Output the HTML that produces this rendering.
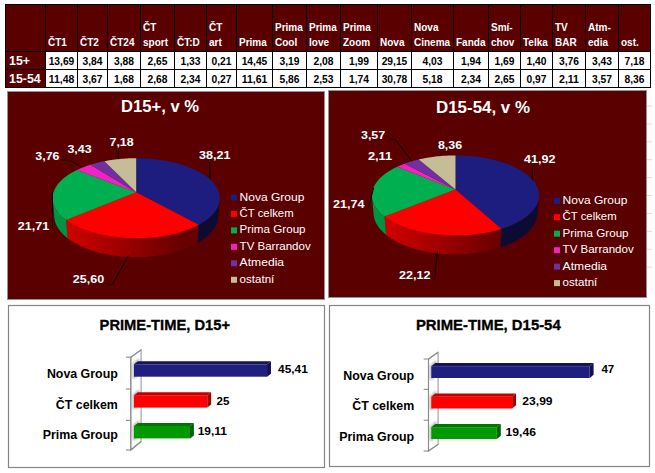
<!DOCTYPE html>
<html><head><meta charset="utf-8"><title>TV share</title>
<style>html,body{margin:0;padding:0;background:#fff;} svg{display:block;}</style></head>
<body><svg width="655" height="473" viewBox="0 0 655 473">
<rect x="5" y="4" width="646" height="84" fill="#5a0000"/>
<rect x="45" y="51" width="606" height="37" fill="#fff"/>
<rect x="5" y="4" width="1" height="84" fill="#000"/>
<rect x="45" y="4" width="1" height="84" fill="#000"/>
<rect x="77" y="4" width="1" height="84" fill="#000"/>
<rect x="107" y="4" width="1" height="84" fill="#000"/>
<rect x="140" y="4" width="1" height="84" fill="#000"/>
<rect x="174" y="4" width="1" height="84" fill="#000"/>
<rect x="206" y="4" width="1" height="84" fill="#000"/>
<rect x="236" y="4" width="1" height="84" fill="#000"/>
<rect x="272" y="4" width="1" height="84" fill="#000"/>
<rect x="306" y="4" width="1" height="84" fill="#000"/>
<rect x="340" y="4" width="1" height="84" fill="#000"/>
<rect x="377" y="4" width="1" height="84" fill="#000"/>
<rect x="411" y="4" width="1" height="84" fill="#000"/>
<rect x="453" y="4" width="1" height="84" fill="#000"/>
<rect x="488" y="4" width="1" height="84" fill="#000"/>
<rect x="520" y="4" width="1" height="84" fill="#000"/>
<rect x="552" y="4" width="1" height="84" fill="#000"/>
<rect x="585" y="4" width="1" height="84" fill="#000"/>
<rect x="618" y="4" width="1" height="84" fill="#000"/>
<rect x="650" y="4" width="1" height="84" fill="#000"/>
<rect x="5" y="4" width="646" height="1" fill="#000"/>
<rect x="5" y="51" width="646" height="1" fill="#000"/>
<rect x="5" y="69" width="646" height="1" fill="#000"/>
<rect x="5" y="87" width="646" height="1" fill="#000"/>
<g font-family="Liberation Sans, sans-serif" font-weight="bold" font-size="10" fill="#fff">
<text x="48" y="46">ČT1</text>
<text x="80" y="46">ČT2</text>
<text x="110" y="46">ČT24</text>
<text x="143" y="31">ČT</text>
<text x="143" y="46">sport</text>
<text x="177" y="46">ČT:D</text>
<text x="209" y="31">ČT</text>
<text x="209" y="46">art</text>
<text x="239" y="46">Prima</text>
<text x="275" y="31">Prima</text>
<text x="275" y="46">Cool</text>
<text x="309" y="31">Prima</text>
<text x="309" y="46">love</text>
<text x="343" y="31">Prima</text>
<text x="343" y="46">Zoom</text>
<text x="380" y="46">Nova</text>
<text x="414" y="31">Nova</text>
<text x="414" y="46">Cinema</text>
<text x="456" y="46">Fanda</text>
<text x="491" y="31">Smí-</text>
<text x="491" y="46">chov</text>
<text x="523" y="46">Telka</text>
<text x="555" y="31">TV</text>
<text x="555" y="46">BAR</text>
<text x="588" y="31">Atm-</text>
<text x="588" y="46">edia</text>
<text x="621" y="46">ost.</text>
</g>
<g font-family="Liberation Sans, sans-serif" font-weight="bold" font-size="12.4" fill="#fff">
<text x="9" y="65">15+</text>
<text x="9" y="83">15-54</text>
</g>
<g font-family="Liberation Sans, sans-serif" font-weight="bold" font-size="10.4" fill="#000" text-anchor="middle">
<text x="61.5" y="65.2" textLength="25.6" lengthAdjust="spacingAndGlyphs">13,69</text>
<text x="61.5" y="83" textLength="25.6" lengthAdjust="spacingAndGlyphs">11,48</text>
<text x="92.5" y="65.2" textLength="20.0" lengthAdjust="spacingAndGlyphs">3,84</text>
<text x="92.5" y="83" textLength="20.0" lengthAdjust="spacingAndGlyphs">3,67</text>
<text x="124.0" y="65.2" textLength="20.0" lengthAdjust="spacingAndGlyphs">3,88</text>
<text x="124.0" y="83" textLength="20.0" lengthAdjust="spacingAndGlyphs">1,68</text>
<text x="157.5" y="65.2" textLength="20.0" lengthAdjust="spacingAndGlyphs">2,65</text>
<text x="157.5" y="83" textLength="20.0" lengthAdjust="spacingAndGlyphs">2,68</text>
<text x="190.5" y="65.2" textLength="20.0" lengthAdjust="spacingAndGlyphs">1,33</text>
<text x="190.5" y="83" textLength="20.0" lengthAdjust="spacingAndGlyphs">2,34</text>
<text x="221.5" y="65.2" textLength="20.0" lengthAdjust="spacingAndGlyphs">0,21</text>
<text x="221.5" y="83" textLength="20.0" lengthAdjust="spacingAndGlyphs">0,27</text>
<text x="254.5" y="65.2" textLength="25.6" lengthAdjust="spacingAndGlyphs">14,45</text>
<text x="254.5" y="83" textLength="25.6" lengthAdjust="spacingAndGlyphs">11,61</text>
<text x="289.5" y="65.2" textLength="20.0" lengthAdjust="spacingAndGlyphs">3,19</text>
<text x="289.5" y="83" textLength="20.0" lengthAdjust="spacingAndGlyphs">5,86</text>
<text x="323.5" y="65.2" textLength="20.0" lengthAdjust="spacingAndGlyphs">2,08</text>
<text x="323.5" y="83" textLength="20.0" lengthAdjust="spacingAndGlyphs">2,53</text>
<text x="359.0" y="65.2" textLength="20.0" lengthAdjust="spacingAndGlyphs">1,99</text>
<text x="359.0" y="83" textLength="20.0" lengthAdjust="spacingAndGlyphs">1,74</text>
<text x="394.5" y="65.2" textLength="25.6" lengthAdjust="spacingAndGlyphs">29,15</text>
<text x="394.5" y="83" textLength="25.6" lengthAdjust="spacingAndGlyphs">30,78</text>
<text x="432.5" y="65.2" textLength="20.0" lengthAdjust="spacingAndGlyphs">4,03</text>
<text x="432.5" y="83" textLength="20.0" lengthAdjust="spacingAndGlyphs">5,18</text>
<text x="471.0" y="65.2" textLength="20.0" lengthAdjust="spacingAndGlyphs">1,94</text>
<text x="471.0" y="83" textLength="20.0" lengthAdjust="spacingAndGlyphs">2,34</text>
<text x="504.5" y="65.2" textLength="20.0" lengthAdjust="spacingAndGlyphs">1,69</text>
<text x="504.5" y="83" textLength="20.0" lengthAdjust="spacingAndGlyphs">2,65</text>
<text x="536.5" y="65.2" textLength="20.0" lengthAdjust="spacingAndGlyphs">1,40</text>
<text x="536.5" y="83" textLength="20.0" lengthAdjust="spacingAndGlyphs">0,97</text>
<text x="569.0" y="65.2" textLength="20.0" lengthAdjust="spacingAndGlyphs">3,76</text>
<text x="569.0" y="83" textLength="20.0" lengthAdjust="spacingAndGlyphs">2,11</text>
<text x="602.0" y="65.2" textLength="20.0" lengthAdjust="spacingAndGlyphs">3,43</text>
<text x="602.0" y="83" textLength="20.0" lengthAdjust="spacingAndGlyphs">3,57</text>
<text x="634.5" y="65.2" textLength="20.0" lengthAdjust="spacingAndGlyphs">7,18</text>
<text x="634.5" y="83" textLength="20.0" lengthAdjust="spacingAndGlyphs">8,36</text>
</g>
<rect x="7.5" y="91.5" width="317" height="208" fill="#5a0000" stroke="#8c9696" stroke-width="1"/>
<rect x="328.5" y="90.5" width="318" height="207" fill="#5a0000" stroke="#8c9696" stroke-width="1"/>
<defs><filter id="blr" x="-50%" y="-50%" width="200%" height="200%"><feGaussianBlur stdDeviation="1.1"/></filter></defs>
<linearGradient id="Lpur" gradientUnits="userSpaceOnUse" x1="52.6" y1="0" x2="219.8" y2="0"><stop offset="0" stop-color="#61298b"/><stop offset="0.77" stop-color="#2d1341"/><stop offset="1" stop-color="#2c1340"/></linearGradient>
<linearGradient id="Lgreen" gradientUnits="userSpaceOnUse" x1="52.6" y1="0" x2="219.8" y2="0"><stop offset="0" stop-color="#009945"/><stop offset="0.77" stop-color="#004820"/><stop offset="1" stop-color="#004620"/></linearGradient>
<linearGradient id="Lmag" gradientUnits="userSpaceOnUse" x1="52.6" y1="0" x2="219.8" y2="0"><stop offset="0" stop-color="#d21da8"/><stop offset="0.77" stop-color="#630d4f"/><stop offset="1" stop-color="#600d4d"/></linearGradient>
<linearGradient id="Lred" gradientUnits="userSpaceOnUse" x1="52.6" y1="0" x2="219.8" y2="0"><stop offset="0" stop-color="#dd0000"/><stop offset="0.77" stop-color="#680000"/><stop offset="1" stop-color="#660000"/></linearGradient>
<linearGradient id="Lbeige" gradientUnits="userSpaceOnUse" x1="52.6" y1="0" x2="219.8" y2="0"><stop offset="0" stop-color="#aaa483"/><stop offset="0.77" stop-color="#504d3d"/><stop offset="1" stop-color="#4e4b3c"/></linearGradient>
<linearGradient id="Lblue" gradientUnits="userSpaceOnUse" x1="52.6" y1="0" x2="219.8" y2="0"><stop offset="0" stop-color="#19196f"/><stop offset="0.77" stop-color="#0b0b34"/><stop offset="1" stop-color="#0b0b33"/></linearGradient>
<path d="M219.80,198.20 L219.77,199.22 L219.69,200.25 L219.55,201.28 L219.35,202.31 L219.10,203.35 L218.79,204.38 L218.43,205.41 L218.00,206.44 L217.52,207.47 L216.98,208.50 L216.38,209.52 L215.72,210.54 L215.00,211.56 L214.22,212.57 L213.38,213.57 L212.48,214.56 L211.52,215.55 L210.51,216.52 L209.43,217.49 L208.30,218.44 L207.11,219.39 L205.86,220.32 L204.55,221.23 L203.19,222.13 L201.76,223.02 L200.29,223.88 L198.76,224.73 L197.44,243.12 L198.94,242.23 L200.39,241.33 L201.78,240.41 L203.12,239.47 L204.41,238.52 L205.64,237.55 L206.81,236.57 L207.93,235.58 L208.98,234.57 L209.98,233.56 L210.93,232.53 L211.81,231.50 L212.64,230.45 L213.41,229.40 L214.12,228.34 L214.77,227.28 L215.36,226.21 L215.90,225.14 L216.38,224.07 L216.80,222.99 L217.17,221.91 L217.48,220.83 L217.73,219.76 L217.93,218.68 L218.07,217.61 L218.16,216.53 L218.19,215.46Z" fill="url(#Lblue)"/>
<path d="M198.76,224.73 L197.13,225.59 L195.44,226.42 L193.70,227.23 L191.91,228.02 L190.06,228.79 L188.16,229.53 L186.22,230.25 L184.22,230.94 L182.18,231.61 L180.10,232.24 L177.97,232.85 L175.80,233.43 L173.59,233.98 L171.34,234.49 L169.06,234.98 L166.75,235.43 L164.40,235.85 L162.03,236.24 L159.63,236.60 L157.21,236.92 L154.76,237.20 L152.30,237.45 L149.82,237.67 L147.33,237.84 L144.82,237.99 L142.31,238.09 L139.79,238.16 L137.26,238.20 L134.74,238.19 L132.21,238.15 L129.69,238.08 L127.18,237.97 L124.68,237.82 L122.19,237.63 L119.71,237.41 L117.25,237.16 L114.81,236.87 L112.39,236.54 L109.99,236.18 L107.62,235.79 L105.28,235.36 L102.97,234.90 L100.70,234.41 L98.46,233.89 L96.26,233.34 L94.09,232.76 L91.97,232.14 L89.89,231.50 L87.86,230.83 L85.87,230.14 L83.93,229.42 L82.04,228.67 L80.20,227.90 L78.42,227.11 L76.69,226.29 L75.01,225.45 L73.39,224.60 L71.83,223.72 L70.32,222.82 L68.87,221.91 L67.48,220.98 L66.16,220.03 L67.61,238.23 L68.92,239.21 L70.28,240.18 L71.70,241.13 L73.18,242.06 L74.71,242.98 L76.30,243.87 L77.95,244.74 L79.65,245.59 L81.40,246.41 L83.20,247.21 L85.05,247.99 L86.95,248.74 L88.90,249.46 L90.89,250.16 L92.93,250.82 L95.00,251.46 L97.12,252.07 L99.28,252.64 L101.47,253.18 L103.70,253.69 L105.96,254.17 L108.25,254.61 L110.57,255.02 L112.91,255.39 L115.28,255.73 L117.66,256.03 L120.07,256.30 L122.49,256.53 L124.93,256.72 L127.38,256.87 L129.84,256.99 L132.30,257.07 L134.77,257.11 L137.24,257.11 L139.71,257.08 L142.17,257.00 L144.63,256.89 L147.08,256.75 L149.52,256.56 L151.95,256.34 L154.36,256.08 L156.75,255.78 L159.12,255.45 L161.46,255.08 L163.79,254.68 L166.08,254.24 L168.34,253.77 L170.58,253.27 L172.78,252.73 L174.94,252.16 L177.06,251.56 L179.15,250.93 L181.19,250.26 L183.19,249.57 L185.14,248.86 L187.05,248.11 L188.91,247.34 L190.72,246.54 L192.48,245.72 L194.19,244.87 L195.84,244.01 L197.44,243.12Z" fill="url(#Lred)"/>
<path d="M66.16,220.03 L64.89,219.07 L63.67,218.09 L62.53,217.10 L61.44,216.10 L60.42,215.09 L59.46,214.06 L58.56,213.03 L57.73,211.99 L56.96,210.95 L56.26,209.90 L55.62,208.84 L55.04,207.78 L54.52,206.72 L54.07,205.65 L53.68,204.58 L53.35,203.52 L53.08,202.45 L52.87,201.38 L52.72,200.32 L52.63,199.26 L52.60,198.20 L54.21,215.46 L54.25,216.57 L54.34,217.68 L54.49,218.79 L54.70,219.90 L54.97,221.01 L55.30,222.13 L55.69,223.24 L56.14,224.35 L56.65,225.46 L57.23,226.57 L57.86,227.67 L58.56,228.76 L59.32,229.85 L60.14,230.94 L61.02,232.01 L61.97,233.08 L62.97,234.13 L64.04,235.18 L65.17,236.21 L66.36,237.23 L67.61,238.23Z" fill="url(#Lgreen)"/>
<path d="M136.20,192.20 L136.20,158.20 L138.08,158.21 L139.95,158.24 L141.83,158.29 L143.70,158.36 L145.57,158.45 L147.44,158.56 L149.30,158.69 L151.15,158.85 L153.00,159.02 L154.85,159.21 L156.68,159.42 L158.51,159.65 L160.32,159.90 L162.13,160.17 L163.92,160.46 L165.71,160.77 L167.48,161.10 L169.23,161.46 L170.97,161.82 L172.70,162.21 L174.41,162.62 L176.11,163.05 L177.78,163.50 L179.44,163.97 L181.08,164.45 L182.69,164.96 L184.29,165.48 L185.86,166.02 L187.41,166.59 L188.94,167.17 L190.44,167.76 L191.92,168.38 L193.37,169.02 L194.79,169.67 L196.18,170.34 L197.54,171.03 L198.88,171.73 L200.18,172.45 L201.45,173.19 L202.68,173.95 L203.88,174.72 L205.04,175.51 L206.17,176.31 L207.26,177.13 L208.31,177.97 L209.33,178.82 L210.30,179.68 L211.23,180.56 L212.12,181.46 L212.96,182.36 L213.76,183.28 L214.52,184.21 L215.23,185.16 L215.89,186.11 L216.50,187.08 L217.06,188.06 L217.58,189.05 L218.04,190.05 L218.45,191.05 L218.81,192.07 L219.11,193.09 L219.36,194.13 L219.55,195.16 L219.69,196.21 L219.77,197.26 L219.80,198.32 L219.76,199.37 L219.66,200.44 L219.51,201.50 L219.30,202.57 L219.02,203.64 L218.68,204.71 L218.28,205.77 L217.82,206.84 L217.30,207.90 L216.71,208.97 L216.06,210.02 L215.35,211.07 L214.57,212.12 L213.73,213.16 L212.83,214.19 L211.86,215.21 L210.83,216.23 L209.73,217.23 L208.58,218.22 L207.36,219.19 L206.07,220.16 L204.73,221.11 L203.33,222.04 L201.86,222.96 L200.34,223.85 L198.76,224.73Z" fill="#1d1d80"/>
<path d="M136.20,192.20 L198.76,224.73 L197.13,225.59 L195.44,226.42 L193.70,227.23 L191.91,228.02 L190.06,228.79 L188.16,229.53 L186.22,230.25 L184.22,230.94 L182.18,231.61 L180.10,232.24 L177.97,232.85 L175.80,233.43 L173.59,233.98 L171.34,234.49 L169.06,234.98 L166.75,235.43 L164.40,235.85 L162.03,236.24 L159.63,236.60 L157.21,236.92 L154.76,237.20 L152.30,237.45 L149.82,237.67 L147.33,237.84 L144.82,237.99 L142.31,238.09 L139.79,238.16 L137.26,238.20 L134.74,238.19 L132.21,238.15 L129.69,238.08 L127.18,237.97 L124.68,237.82 L122.19,237.63 L119.71,237.41 L117.25,237.16 L114.81,236.87 L112.39,236.54 L109.99,236.18 L107.62,235.79 L105.28,235.36 L102.97,234.90 L100.70,234.41 L98.46,233.89 L96.26,233.34 L94.09,232.76 L91.97,232.14 L89.89,231.50 L87.86,230.83 L85.87,230.14 L83.93,229.42 L82.04,228.67 L80.20,227.90 L78.42,227.11 L76.69,226.29 L75.01,225.45 L73.39,224.60 L71.83,223.72 L70.32,222.82 L68.87,221.91 L67.48,220.98 L66.16,220.03Z" fill="#ff0000"/>
<path d="M136.20,192.20 L66.16,220.03 L64.90,219.08 L63.70,218.12 L62.57,217.14 L61.50,216.15 L60.48,215.15 L59.53,214.14 L58.64,213.13 L57.81,212.10 L57.05,211.07 L56.35,210.03 L55.70,208.99 L55.12,207.94 L54.60,206.89 L54.14,205.84 L53.75,204.79 L53.41,203.74 L53.13,202.68 L52.91,201.63 L52.75,200.58 L52.65,199.53 L52.61,198.48 L52.62,197.44 L52.69,196.41 L52.81,195.37 L52.99,194.35 L53.23,193.33 L53.51,192.32 L53.85,191.31 L54.24,190.32 L54.69,189.33 L55.18,188.35 L55.72,187.38 L56.31,186.43 L56.94,185.48 L57.63,184.54 L58.36,183.62 L59.13,182.71 L59.94,181.81 L60.80,180.92 L61.70,180.05 L62.65,179.19 L63.63,178.35 L64.65,177.52 L65.70,176.70 L66.80,175.90 L67.93,175.12 L69.10,174.35 L70.30,173.59 L71.53,172.85 L72.79,172.13 L74.09,171.43 L75.42,170.74 L76.77,170.07Z" fill="#00b050"/>
<path d="M136.20,192.20 L76.77,170.07 L78.04,169.47 L79.34,168.88 L80.65,168.31 L81.99,167.75 L83.35,167.21 L84.73,166.68 L86.13,166.17 L87.55,165.67 L88.98,165.19 L90.44,164.73Z" fill="#f222c2"/>
<path d="M136.20,192.20 L90.44,164.73 L91.93,164.27 L93.44,163.83 L94.96,163.41 L96.50,163.00 L98.06,162.61 L99.63,162.23 L101.21,161.87 L102.81,161.53 L104.42,161.20Z" fill="#7030a0"/>
<path d="M136.20,192.20 L104.42,161.20 L106.11,160.88 L107.82,160.58 L109.54,160.29 L111.27,160.02 L113.01,159.77 L114.76,159.54 L116.52,159.32 L118.28,159.13 L120.05,158.95 L121.83,158.80 L123.62,158.66 L125.41,158.53 L127.20,158.43 L128.99,158.35 L130.79,158.28 L132.59,158.24 L134.40,158.21 L136.20,158.20Z" fill="#c4bd97"/>
<linearGradient id="Rpur" gradientUnits="userSpaceOnUse" x1="371.9" y1="0" x2="539.1" y2="0"><stop offset="0" stop-color="#61298b"/><stop offset="0.77" stop-color="#2d1341"/><stop offset="1" stop-color="#2c1340"/></linearGradient>
<linearGradient id="Rgreen" gradientUnits="userSpaceOnUse" x1="371.9" y1="0" x2="539.1" y2="0"><stop offset="0" stop-color="#009945"/><stop offset="0.77" stop-color="#004820"/><stop offset="1" stop-color="#004620"/></linearGradient>
<linearGradient id="Rmag" gradientUnits="userSpaceOnUse" x1="371.9" y1="0" x2="539.1" y2="0"><stop offset="0" stop-color="#d21da8"/><stop offset="0.77" stop-color="#630d4f"/><stop offset="1" stop-color="#600d4d"/></linearGradient>
<linearGradient id="Rred" gradientUnits="userSpaceOnUse" x1="371.9" y1="0" x2="539.1" y2="0"><stop offset="0" stop-color="#dd0000"/><stop offset="0.77" stop-color="#680000"/><stop offset="1" stop-color="#660000"/></linearGradient>
<linearGradient id="Rbeige" gradientUnits="userSpaceOnUse" x1="371.9" y1="0" x2="539.1" y2="0"><stop offset="0" stop-color="#aaa483"/><stop offset="0.77" stop-color="#504d3d"/><stop offset="1" stop-color="#4e4b3c"/></linearGradient>
<linearGradient id="Rblue" gradientUnits="userSpaceOnUse" x1="371.9" y1="0" x2="539.1" y2="0"><stop offset="0" stop-color="#19196f"/><stop offset="0.77" stop-color="#0b0b34"/><stop offset="1" stop-color="#0b0b33"/></linearGradient>
<path d="M539.10,195.40 L539.07,196.43 L538.98,197.47 L538.84,198.51 L538.65,199.55 L538.39,200.59 L538.08,201.63 L537.70,202.67 L537.27,203.71 L536.78,204.75 L536.23,205.79 L535.62,206.82 L534.94,207.85 L534.21,208.87 L533.42,209.89 L532.57,210.90 L531.65,211.90 L530.68,212.89 L529.65,213.87 L528.55,214.85 L527.40,215.81 L526.18,216.76 L524.91,217.69 L523.58,218.61 L522.20,219.52 L520.75,220.40 L519.25,221.28 L517.69,222.13 L516.08,222.96 L514.42,223.78 L512.70,224.57 L510.93,225.34 L509.11,226.09 L507.25,226.82 L505.33,227.52 L503.37,228.19 L501.36,228.84 L500.37,247.50 L502.34,246.83 L504.26,246.12 L506.14,245.40 L507.97,244.64 L509.75,243.86 L511.48,243.06 L513.17,242.24 L514.80,241.39 L516.38,240.52 L517.91,239.63 L519.38,238.73 L520.80,237.80 L522.16,236.86 L523.47,235.90 L524.72,234.93 L525.91,233.94 L527.05,232.94 L528.12,231.93 L529.14,230.91 L530.10,229.87 L531.00,228.83 L531.84,227.78 L532.62,226.72 L533.35,225.65 L534.01,224.58 L534.62,223.50 L535.16,222.42 L535.65,221.34 L536.08,220.26 L536.45,219.17 L536.77,218.08 L537.02,216.99 L537.22,215.91 L537.37,214.82 L537.46,213.74 L537.49,212.66Z" fill="url(#Rblue)"/>
<path d="M501.36,228.84 L499.29,229.47 L497.18,230.07 L495.02,230.65 L492.83,231.19 L490.60,231.70 L488.33,232.19 L486.03,232.64 L483.71,233.05 L481.35,233.44 L478.97,233.79 L476.56,234.11 L474.14,234.39 L471.69,234.64 L469.23,234.86 L466.76,235.04 L464.27,235.18 L461.77,235.29 L459.27,235.36 L456.77,235.40 L454.26,235.40 L451.75,235.36 L449.25,235.29 L446.76,235.18 L444.27,235.04 L441.79,234.86 L439.33,234.64 L436.89,234.40 L434.46,234.11 L432.06,233.79 L429.67,233.44 L427.32,233.06 L424.99,232.64 L422.69,232.19 L420.43,231.71 L418.20,231.20 L416.00,230.65 L413.85,230.08 L411.73,229.48 L409.66,228.85 L407.63,228.19 L405.64,227.51 L403.71,226.80 L401.82,226.06 L399.98,225.30 L398.19,224.52 L396.46,223.72 L394.78,222.89 L393.15,222.05 L391.59,221.18 L390.07,220.30 L388.62,219.40 L387.22,218.48 L385.88,217.55 L384.61,216.60 L386.08,234.77 L387.33,235.75 L388.65,236.72 L390.02,237.68 L391.45,238.62 L392.93,239.54 L394.47,240.44 L396.06,241.32 L397.71,242.18 L399.41,243.01 L401.17,243.82 L402.97,244.61 L404.82,245.38 L406.72,246.12 L408.66,246.83 L410.65,247.51 L412.68,248.16 L414.75,248.79 L416.86,249.38 L419.01,249.95 L421.19,250.48 L423.41,250.98 L425.66,251.45 L427.94,251.88 L430.24,252.28 L432.57,252.65 L434.92,252.98 L437.30,253.27 L439.69,253.53 L442.10,253.75 L444.52,253.94 L446.95,254.09 L449.39,254.20 L451.84,254.27 L454.29,254.31 L456.74,254.31 L459.19,254.27 L461.64,254.20 L464.08,254.09 L466.51,253.94 L468.93,253.75 L471.34,253.53 L473.73,253.27 L476.10,252.97 L478.46,252.64 L480.78,252.28 L483.09,251.88 L485.37,251.44 L487.62,250.98 L489.83,250.48 L492.02,249.94 L494.16,249.38 L496.27,248.78 L498.34,248.16 L500.37,247.50Z" fill="url(#Rred)"/>
<path d="M384.61,216.60 L383.41,215.65 L382.28,214.70 L381.20,213.73 L380.19,212.76 L379.23,211.77 L378.33,210.78 L377.49,209.77 L376.71,208.77 L375.99,207.75 L375.33,206.73 L374.73,205.71 L374.18,204.68 L373.70,203.65 L373.28,202.62 L372.91,201.58 L372.60,200.55 L372.35,199.51 L372.15,198.48 L372.01,197.45 L371.93,196.42 L371.90,195.40 L373.51,212.66 L373.54,213.73 L373.63,214.81 L373.77,215.88 L373.97,216.96 L374.22,218.04 L374.53,219.12 L374.90,220.19 L375.32,221.27 L375.80,222.35 L376.34,223.42 L376.93,224.49 L377.59,225.55 L378.30,226.61 L379.07,227.66 L379.90,228.70 L380.78,229.74 L381.73,230.77 L382.73,231.78 L383.79,232.79 L384.90,233.78 L386.08,234.77Z" fill="url(#Rgreen)"/>
<path d="M455.50,189.40 L455.50,155.40 L457.38,155.41 L459.25,155.44 L461.13,155.49 L463.00,155.56 L464.87,155.65 L466.74,155.76 L468.60,155.89 L470.45,156.05 L472.30,156.22 L474.15,156.41 L475.98,156.62 L477.81,156.85 L479.62,157.10 L481.43,157.37 L483.22,157.66 L485.01,157.97 L486.78,158.31 L488.53,158.66 L490.28,159.03 L492.00,159.41 L493.71,159.82 L495.41,160.25 L497.08,160.70 L498.74,161.17 L500.38,161.65 L502.00,162.16 L503.59,162.68 L505.17,163.22 L506.72,163.79 L508.24,164.37 L509.74,164.96 L511.22,165.58 L512.67,166.22 L514.09,166.87 L515.48,167.54 L516.85,168.23 L518.18,168.93 L519.48,169.65 L520.75,170.39 L521.98,171.15 L523.18,171.92 L524.35,172.71 L525.47,173.52 L526.56,174.33 L527.62,175.17 L528.63,176.02 L529.60,176.88 L530.53,177.76 L531.42,178.66 L532.26,179.56 L533.06,180.48 L533.82,181.41 L534.53,182.36 L535.19,183.32 L535.80,184.28 L536.37,185.26 L536.88,186.25 L537.34,187.25 L537.75,188.26 L538.11,189.27 L538.41,190.30 L538.66,191.33 L538.86,192.37 L538.99,193.41 L539.07,194.46 L539.10,195.52 L539.06,196.58 L538.96,197.64 L538.81,198.71 L538.59,199.77 L538.32,200.84 L537.98,201.91 L537.58,202.98 L537.12,204.04 L536.60,205.11 L536.01,206.17 L535.36,207.23 L534.65,208.28 L533.87,209.32 L533.03,210.36 L532.12,211.39 L531.15,212.42 L530.12,213.43 L529.03,214.43 L527.87,215.42 L526.65,216.40 L525.37,217.36 L524.03,218.31 L522.62,219.24 L521.16,220.16 L519.63,221.06 L518.05,221.94 L516.41,222.80 L514.72,223.63 L512.96,224.45 L511.16,225.24 L509.30,226.02 L507.39,226.76 L505.43,227.48 L503.42,228.18 L501.36,228.84Z" fill="#1d1d80"/>
<path d="M455.50,189.40 L501.36,228.84 L499.29,229.47 L497.18,230.07 L495.02,230.65 L492.83,231.19 L490.60,231.70 L488.33,232.19 L486.03,232.64 L483.71,233.05 L481.35,233.44 L478.97,233.79 L476.56,234.11 L474.14,234.39 L471.69,234.64 L469.23,234.86 L466.76,235.04 L464.27,235.18 L461.77,235.29 L459.27,235.36 L456.77,235.40 L454.26,235.40 L451.75,235.36 L449.25,235.29 L446.76,235.18 L444.27,235.04 L441.79,234.86 L439.33,234.64 L436.89,234.40 L434.46,234.11 L432.06,233.79 L429.67,233.44 L427.32,233.06 L424.99,232.64 L422.69,232.19 L420.43,231.71 L418.20,231.20 L416.00,230.65 L413.85,230.08 L411.73,229.48 L409.66,228.85 L407.63,228.19 L405.64,227.51 L403.71,226.80 L401.82,226.06 L399.98,225.30 L398.19,224.52 L396.46,223.72 L394.78,222.89 L393.15,222.05 L391.59,221.18 L390.07,220.30 L388.62,219.40 L387.22,218.48 L385.88,217.55 L384.61,216.60Z" fill="#ff0000"/>
<path d="M455.50,189.40 L384.61,216.60 L383.39,215.63 L382.23,214.66 L381.14,213.67 L380.10,212.67 L379.13,211.67 L378.22,210.65 L377.37,209.62 L376.58,208.59 L375.86,207.55 L375.19,206.51 L374.59,205.46 L374.05,204.41 L373.58,203.36 L373.16,202.30 L372.80,201.25 L372.51,200.19 L372.27,199.14 L372.09,198.08 L371.97,197.03 L371.91,195.98 L371.91,194.94 L371.96,193.90 L372.07,192.86 L372.24,191.83 L372.46,190.81 L372.73,189.79 L373.05,188.79 L373.43,187.79 L373.86,186.79 L374.34,185.81 L374.87,184.84 L375.45,183.88 L376.07,182.92 L376.75,181.98 L377.46,181.06 L378.23,180.14 L379.03,179.24 L379.88,178.34 L380.78,177.47 L381.71,176.60 L382.68,175.75 L383.70,174.92 L384.75,174.10 L385.84,173.29 L386.96,172.50 L388.12,171.72 L389.32,170.96 L390.54,170.22 L391.80,169.49 L393.10,168.78 L394.42,168.09 L395.77,167.41 L397.15,166.75Z" fill="#00b050"/>
<path d="M455.50,189.40 L397.15,166.75 L398.36,166.20 L399.59,165.66 L400.83,165.14 L402.10,164.63 L403.38,164.13 L404.68,163.64Z" fill="#f222c2"/>
<path d="M455.50,189.40 L404.68,163.64 L406.17,163.11 L407.67,162.59 L409.20,162.09 L410.75,161.61 L412.32,161.15 L413.90,160.70 L415.50,160.28 L417.12,159.86 L418.75,159.47Z" fill="#7030a0"/>
<path d="M455.50,189.40 L418.75,159.47 L420.41,159.10 L422.08,158.74 L423.76,158.40 L425.45,158.07 L427.16,157.77 L428.88,157.48 L430.60,157.22 L432.34,156.97 L434.09,156.73 L435.84,156.52 L437.61,156.33 L439.38,156.15 L441.15,155.99 L442.93,155.85 L444.72,155.73 L446.51,155.63 L448.30,155.55 L450.10,155.48 L451.90,155.44 L453.70,155.41 L455.50,155.40Z" fill="#c4bd97"/>
<g font-family="Liberation Sans, sans-serif" font-weight="bold" font-size="15.8" fill="#fff">
<text x="121" y="112.4" textLength="78" lengthAdjust="spacingAndGlyphs">D15+, v %</text>
<text x="436" y="113.4" textLength="94" lengthAdjust="spacingAndGlyphs">D15-54, v %</text>
</g>
<g font-family="Liberation Sans, sans-serif" font-weight="bold" font-size="11.5" fill="#fff">
<text x="199" y="158.6" textLength="31.4" lengthAdjust="spacingAndGlyphs">38,21</text>
<text x="72.8" y="283.2" textLength="31.4" lengthAdjust="spacingAndGlyphs">25,60</text>
<text x="17.8" y="229.7" textLength="31.4" lengthAdjust="spacingAndGlyphs">21,71</text>
<text x="35.3" y="159.7" textLength="24.2" lengthAdjust="spacingAndGlyphs">3,76</text>
<text x="67.4" y="152.6" textLength="24.2" lengthAdjust="spacingAndGlyphs">3,43</text>
<text x="109.5" y="145.6" textLength="24.2" lengthAdjust="spacingAndGlyphs">7,18</text>
<text x="524" y="162.8" textLength="31.4" lengthAdjust="spacingAndGlyphs">41,92</text>
<text x="399.1" y="278.5" textLength="31.4" lengthAdjust="spacingAndGlyphs">22,12</text>
<text x="333" y="208" textLength="31.4" lengthAdjust="spacingAndGlyphs">21,74</text>
<text x="367.9" y="160.3" textLength="24.2" lengthAdjust="spacingAndGlyphs">2,11</text>
<text x="361" y="139.4" textLength="24.2" lengthAdjust="spacingAndGlyphs">3,57</text>
<text x="437.9" y="148.7" textLength="24.2" lengthAdjust="spacingAndGlyphs">8,36</text>
</g>
<g stroke="#000" stroke-width="1" fill="none">
<path d="M209.8,162 L209.8,178.3"/>
<path d="M128.4,255.5 L112.5,284.4 L107.4,284.4"/>
<path d="M52.4,192 L52.4,229.7"/>
<path d="M62,160 L69,160 L82,167"/>
<path d="M118.3,149 L118.3,158.4"/>
<path d="M532.3,166.3 L532.3,179.6"/>
<path d="M437.5,251.2 L434.3,279.5"/>
<path d="M373.6,188 L368.5,207.6"/>
<path d="M390.4,139.2 L395.2,139.2 L412,161.6"/>
</g>
<rect x="231" y="194.5" width="6" height="6" fill="#1d1d80"/>
<text x="239.6" y="200.5" font-family="Liberation Sans, sans-serif" font-size="10.6" fill="#fff" textLength="64.8" lengthAdjust="spacingAndGlyphs">Nova Group</text>
<rect x="231" y="210.9" width="6" height="6" fill="#ff0000"/>
<text x="239.6" y="216.9" font-family="Liberation Sans, sans-serif" font-size="10.6" fill="#fff" textLength="54" lengthAdjust="spacingAndGlyphs">ČT celkem</text>
<rect x="231" y="227.4" width="6" height="6" fill="#00b050"/>
<text x="239.6" y="233.4" font-family="Liberation Sans, sans-serif" font-size="10.6" fill="#fff" textLength="66" lengthAdjust="spacingAndGlyphs">Prima Group</text>
<rect x="231" y="243.8" width="6" height="6" fill="#f222c2"/>
<text x="239.6" y="249.8" font-family="Liberation Sans, sans-serif" font-size="10.6" fill="#fff" textLength="71.1" lengthAdjust="spacingAndGlyphs">TV Barrandov</text>
<rect x="231" y="260.3" width="6" height="6" fill="#7030a0"/>
<text x="239.6" y="266.3" font-family="Liberation Sans, sans-serif" font-size="10.6" fill="#fff" textLength="44.5" lengthAdjust="spacingAndGlyphs">Atmedia</text>
<rect x="231" y="276.8" width="6" height="6" fill="#c4bd97"/>
<text x="239.6" y="282.8" font-family="Liberation Sans, sans-serif" font-size="10.6" fill="#fff" textLength="34.7" lengthAdjust="spacingAndGlyphs">ostatní</text>
<rect x="554" y="197.8" width="6" height="6" fill="#1d1d80"/>
<text x="562.6" y="203.8" font-family="Liberation Sans, sans-serif" font-size="10.6" fill="#fff" textLength="64.8" lengthAdjust="spacingAndGlyphs">Nova Group</text>
<rect x="554" y="214.2" width="6" height="6" fill="#ff0000"/>
<text x="562.6" y="220.2" font-family="Liberation Sans, sans-serif" font-size="10.6" fill="#fff" textLength="54" lengthAdjust="spacingAndGlyphs">ČT celkem</text>
<rect x="554" y="230.7" width="6" height="6" fill="#00b050"/>
<text x="562.6" y="236.7" font-family="Liberation Sans, sans-serif" font-size="10.6" fill="#fff" textLength="66" lengthAdjust="spacingAndGlyphs">Prima Group</text>
<rect x="554" y="247.2" width="6" height="6" fill="#f222c2"/>
<text x="562.6" y="253.2" font-family="Liberation Sans, sans-serif" font-size="10.6" fill="#fff" textLength="71.1" lengthAdjust="spacingAndGlyphs">TV Barrandov</text>
<rect x="554" y="263.6" width="6" height="6" fill="#7030a0"/>
<text x="562.6" y="269.6" font-family="Liberation Sans, sans-serif" font-size="10.6" fill="#fff" textLength="44.5" lengthAdjust="spacingAndGlyphs">Atmedia</text>
<rect x="554" y="280.1" width="6" height="6" fill="#c4bd97"/>
<text x="562.6" y="286.1" font-family="Liberation Sans, sans-serif" font-size="10.6" fill="#fff" textLength="34.7" lengthAdjust="spacingAndGlyphs">ostatní</text>
<rect x="647" y="105.5" width="5" height="1" fill="#dcdcdc"/>
<rect x="647" y="123.4" width="5" height="1" fill="#dcdcdc"/>
<rect x="647" y="141.3" width="5" height="1" fill="#dcdcdc"/>
<rect x="647" y="159.2" width="5" height="1" fill="#dcdcdc"/>
<rect x="647" y="177.1" width="5" height="1" fill="#dcdcdc"/>
<rect x="647" y="195.0" width="5" height="1" fill="#dcdcdc"/>
<rect x="647" y="212.9" width="5" height="1" fill="#dcdcdc"/>
<rect x="647" y="230.8" width="5" height="1" fill="#dcdcdc"/>
<rect x="647" y="248.7" width="5" height="1" fill="#dcdcdc"/>
<rect x="647" y="266.6" width="5" height="1" fill="#dcdcdc"/>
<rect x="8.5" y="305.5" width="316" height="162" fill="#fff" stroke="#858585" stroke-width="1.2"/>
<text x="164.8" y="329.5" text-anchor="middle" font-family="Liberation Sans, sans-serif" font-weight="bold" font-size="14" fill="#000" stroke="#000" stroke-width="0.3" textLength="130.4" lengthAdjust="spacingAndGlyphs">PRIME-TIME, D15+</text>
<path d="M130.8,450 L130.8,357.2 L141.1,349.9 L141.1,441.5 Z" fill="#fff" stroke="#9c9c9c" stroke-width="1.1"/>
<path d="M141.1,441.5 L130.8,450 L130.8,357.2 L141.1,349.9" fill="none" stroke="#8c8c8c" stroke-width="1.1"/>
<path d="M126.00000000000001,357.2 L130.8,357.2" stroke="#8c8c8c" stroke-width="1.1"/>
<path d="M126.00000000000001,389 L130.8,389" stroke="#8c8c8c" stroke-width="1.1"/>
<path d="M126.00000000000001,420.4 L130.8,420.4" stroke="#8c8c8c" stroke-width="1.1"/>
<path d="M126.00000000000001,450 L130.8,450" stroke="#8c8c8c" stroke-width="1.1"/>
<path d="M132.5,378.2 L132.5,363.8 L137.4,359.3 L139.9,359.3 L136,378.2 Z" fill="#7a7a7a" opacity="0.5" filter="url(#blr)"/>
<path d="M134,364.3 L137.9,361.3 L270.95129999999995,361.3 L267.05129999999997,364.3 Z" fill="#15155e"/>
<path d="M267.05129999999997,364.3 L270.95129999999995,361.3 L270.95129999999995,373.7 L267.05129999999997,376.7 Z" fill="#10104c"/>
<rect x="134" y="364.3" width="133.05" height="12.4" fill="#1f1f80"/>
<text x="278.1" y="372.8" font-family="Liberation Sans, sans-serif" font-weight="bold" font-size="11.5" fill="#000" textLength="29.7" lengthAdjust="spacingAndGlyphs">45,41</text>
<path d="M132.5,409.09999999999997 L132.5,394.7 L137.4,390.2 L139.9,390.2 L136,409.09999999999997 Z" fill="#7a7a7a" opacity="0.5" filter="url(#blr)"/>
<path d="M134,395.2 L137.9,392.2 L211.15,392.2 L207.25,395.2 Z" fill="#c00000"/>
<path d="M207.25,395.2 L211.15,392.2 L211.15,404.59999999999997 L207.25,407.59999999999997 Z" fill="#a00000"/>
<rect x="134" y="395.2" width="73.25" height="12.4" fill="#ff0000"/>
<text x="216.6" y="404.5" font-family="Liberation Sans, sans-serif" font-weight="bold" font-size="11.5" fill="#000" textLength="12.9" lengthAdjust="spacingAndGlyphs">25</text>
<path d="M132.5,439.9 L132.5,425.5 L137.4,421.0 L139.9,421.0 L136,439.9 Z" fill="#7a7a7a" opacity="0.5" filter="url(#blr)"/>
<path d="M134,426 L137.9,423.0 L193.8923,423.0 L189.9923,426 Z" fill="#007600"/>
<path d="M189.9923,426 L193.8923,423.0 L193.8923,435.4 L189.9923,438.4 Z" fill="#006000"/>
<rect x="134" y="426" width="55.99" height="12.4" fill="#009a00"/>
<text x="197.7" y="435.4" font-family="Liberation Sans, sans-serif" font-weight="bold" font-size="11.5" fill="#000" textLength="29.3" lengthAdjust="spacingAndGlyphs">19,11</text>
<text x="117.8" y="377.7" text-anchor="end" font-family="Liberation Sans, sans-serif" font-weight="bold" font-size="12.4" fill="#000">Nova Group</text>
<text x="117.8" y="408.8" text-anchor="end" font-family="Liberation Sans, sans-serif" font-weight="bold" font-size="12.4" fill="#000">ČT celkem</text>
<text x="117.8" y="438.9" text-anchor="end" font-family="Liberation Sans, sans-serif" font-weight="bold" font-size="12.4" fill="#000">Prima Group</text>
<rect x="329.5" y="305.5" width="320" height="161" fill="#fff" stroke="#858585" stroke-width="1.2"/>
<text x="488.3" y="329.8" text-anchor="middle" font-family="Liberation Sans, sans-serif" font-weight="bold" font-size="14" fill="#000" stroke="#000" stroke-width="0.3" textLength="144.8" lengthAdjust="spacingAndGlyphs">PRIME-TIME, D15-54</text>
<path d="M428.5,451 L428.5,359 L438.1,352.2 L438.1,444.4 Z" fill="#fff" stroke="#9c9c9c" stroke-width="1.1"/>
<path d="M438.1,444.4 L428.5,451 L428.5,359 L438.1,352.2" fill="none" stroke="#8c8c8c" stroke-width="1.1"/>
<path d="M423.7,359 L428.5,359" stroke="#8c8c8c" stroke-width="1.1"/>
<path d="M423.7,389.4 L428.5,389.4" stroke="#8c8c8c" stroke-width="1.1"/>
<path d="M423.7,420.2 L428.5,420.2" stroke="#8c8c8c" stroke-width="1.1"/>
<path d="M423.7,451 L428.5,451" stroke="#8c8c8c" stroke-width="1.1"/>
<path d="M429.8,379.5 L429.8,365.7 L434.7,361.0 L437.2,361.0 L433.3,379.5 Z" fill="#7a7a7a" opacity="0.5" filter="url(#blr)"/>
<path d="M431.3,366.2 L435.2,363.0 L593.59,363.0 L589.69,366.2 Z" fill="#15155e"/>
<path d="M589.69,366.2 L593.59,363.0 L593.59,374.8 L589.69,378.0 Z" fill="#10104c"/>
<rect x="431.3" y="366.2" width="158.39" height="11.8" fill="#1f1f80"/>
<text x="601.4" y="373.3" font-family="Liberation Sans, sans-serif" font-weight="bold" font-size="11.5" fill="#000" textLength="12.8" lengthAdjust="spacingAndGlyphs">47</text>
<path d="M429.8,410.0 L429.8,396.2 L434.7,391.5 L437.2,391.5 L433.3,410.0 Z" fill="#7a7a7a" opacity="0.5" filter="url(#blr)"/>
<path d="M431.3,396.7 L435.2,393.5 L516.0463,393.5 L512.1463,396.7 Z" fill="#c00000"/>
<path d="M512.1463,396.7 L516.0463,393.5 L516.0463,405.3 L512.1463,408.5 Z" fill="#a00000"/>
<rect x="431.3" y="396.7" width="80.85" height="11.8" fill="#ff0000"/>
<text x="522.3" y="405.1" font-family="Liberation Sans, sans-serif" font-weight="bold" font-size="11.5" fill="#000" textLength="30.3" lengthAdjust="spacingAndGlyphs">23,99</text>
<path d="M429.8,440.5 L429.8,426.7 L434.7,422.0 L437.2,422.0 L433.3,440.5 Z" fill="#7a7a7a" opacity="0.5" filter="url(#blr)"/>
<path d="M431.3,427.2 L435.2,424.0 L500.7802,424.0 L496.8802,427.2 Z" fill="#007600"/>
<path d="M496.8802,427.2 L500.7802,424.0 L500.7802,435.8 L496.8802,439.0 Z" fill="#006000"/>
<rect x="431.3" y="427.2" width="65.58" height="11.8" fill="#009a00"/>
<text x="505.6" y="435.5" font-family="Liberation Sans, sans-serif" font-weight="bold" font-size="11.5" fill="#000" textLength="30.4" lengthAdjust="spacingAndGlyphs">19,46</text>
<text x="414.2" y="379.8" text-anchor="end" font-family="Liberation Sans, sans-serif" font-weight="bold" font-size="12.4" fill="#000">Nova Group</text>
<text x="414.2" y="409.5" text-anchor="end" font-family="Liberation Sans, sans-serif" font-weight="bold" font-size="12.4" fill="#000">ČT celkem</text>
<text x="414.2" y="440.9" text-anchor="end" font-family="Liberation Sans, sans-serif" font-weight="bold" font-size="12.4" fill="#000">Prima Group</text>
</svg></body></html>
